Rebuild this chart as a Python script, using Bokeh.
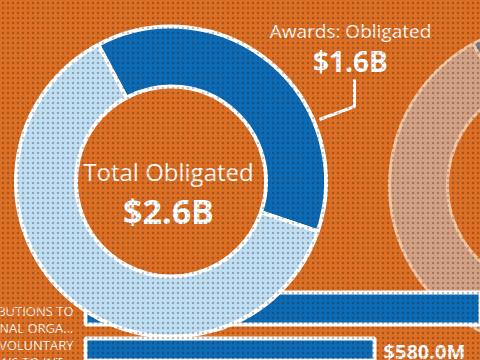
import math
from bokeh.plotting import figure
from bokeh.models import Range1d, ColumnDataSource
from bokeh.core.properties import value
from bokeh.embed import file_html
from bokeh.resources import INLINE

# ---- data ----
donut1_labels = ["Awards: Obligated", "Other"]
donut1_shares = [0.38, 0.62]
donut1_colors = ["#0B6BB6", "#BFDFF4"]
total_label = "Total Obligated"
total_value = "$2.6B"
awards_label = "Awards: Obligated"
awards_value = "$1.6B"

donut2_shares = [0.12, 0.88]
donut2_colors = ["#7D7F84", "#D3A286"]

bar_line1 = ["CONTRIBUTIONS TO", "VOLUNTARY"]
bar_line2 = ["INTERNATIONAL ORGA...", "CONTRIBUTIONS TO INT..."]
bar_values = [1050.0, 580.0]
bar_value_labels = ["$1.1B", "$580.0M"]

W, H = 480, 360
BG = "#DD6F24"
FONT = value("Open Sans")

def Y(yp):
    return H - yp

p = figure(width=W, height=H, x_range=Range1d(0, W), y_range=Range1d(0, H),
           output_backend="svg", toolbar_location=None,
           x_axis_location=None, y_axis_location=None, min_border=0,
           background_fill_color=BG, border_fill_color=BG)
p.grid.visible = False
p.outline_line_color = None

def wedges(shares, start_deg):
    starts, ends = [], []
    a = start_deg
    for s in shares:
        starts.append(math.radians(a))
        a -= s * 360
        ends.append(math.radians(a))
    return starts, ends

# ---- donut 2 (right, partly visible) ----
s2, e2 = wedges(donut2_shares, 119)
p.annular_wedge(x=551, y=Y(185), inner_radius=104, outer_radius=162,
                start_angle=s2, end_angle=e2, direction="clock",
                fill_color=donut2_colors, line_color="#F3C6A3", line_width=3)

# ---- bars ----
p.extra_x_ranges = {"bars": Range1d(-170.6, 792.7)}
bar_y = [Y(308), Y(354)]
bsrc = ColumnDataSource(dict(y=bar_y, v=bar_values))
p.hbar(y="y", left=0, right="v", height=32, source=bsrc, x_range_name="bars",
       fill_color="#0B6BB6", line_color="white", line_width=4)

p.text(x=[580.0], y=[Y(351)], text=[bar_value_labels[1]], x_range_name="bars",
       x_offset=9, text_font=FONT, text_font_style="bold", text_font_size="20px",
       text_color="white", text_align="left", text_baseline="middle")

label_rows = [(Y(310.5), Y(327.5)), (Y(344), Y(361))]
for i in range(2):
    p.text(x=[73, 73], y=list(label_rows[i]),
           text=[bar_line1[i], bar_line2[i]], text_font=FONT,
           text_font_size="13px", text_color="#FBF1EA", text_align="right",
           text_baseline="middle")

# ---- donut 1 ----
s1, e1 = wedges(donut1_shares, 118)
p.annular_wedge(x=170.5, y=Y(181), inner_radius=95, outer_radius=155,
                start_angle=s1, end_angle=e1, direction="clock",
                fill_color=donut1_colors, line_color="white", line_width=4)

p.text(x=[168], y=[Y(171)], text=[total_label], text_font=FONT,
       text_font_size="24px", text_color="#FFF6F0", text_align="center",
       text_baseline="middle")
p.text(x=[168], y=[Y(210)], text=[total_value], text_font=FONT,
       text_font_style="bold", text_font_size="34px", text_color="white",
       text_align="center", text_baseline="middle")

# leader + awards labels
p.line(x=[319, 354, 354], y=[Y(119), Y(106), Y(79)], line_color="white", line_width=3)
p.text(x=[350], y=[Y(30)], text=[awards_label], text_font=FONT,
       text_font_size="19px", text_color="#FFF6F0", text_align="center",
       text_baseline="middle")
p.text(x=[350], y=[Y(60)], text=[awards_value], text_font=FONT,
       text_font_style="bold", text_font_size="28px", text_color="white",
       text_align="center", text_baseline="middle")

# halftone dots over everything
p.quad(left=0, right=W, bottom=0, top=H, fill_alpha=0, line_color=None,
       hatch_pattern="dot", hatch_color="#2a1a10", hatch_alpha=0.3,
       hatch_scale=5, hatch_weight=1.5)

html = file_html(p, INLINE)
html = html.replace("<head>", "<head><style>html,body{margin:0;padding:0;overflow:hidden;background:%s}</style>" % BG, 1)
open("out.html", "w").write(html)
